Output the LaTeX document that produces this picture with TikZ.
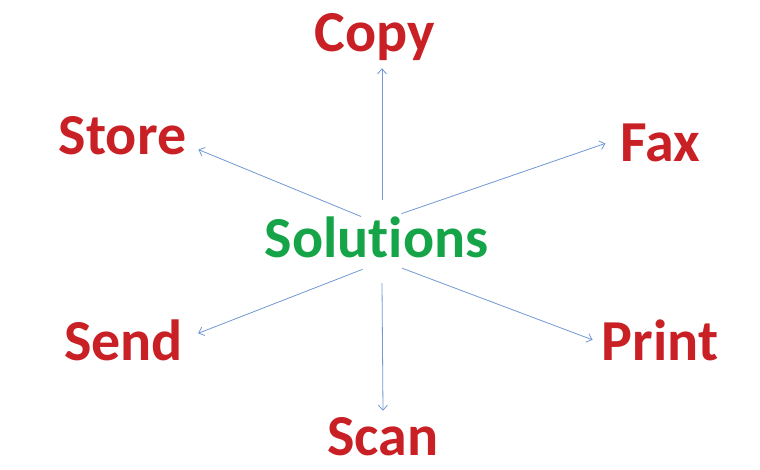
\documentclass[tikz,border=0pt]{standalone}
\usepackage{fontspec}
\setmainfont[Ligatures=NoCommon]{Carlito}
\usepackage{xcolor}
\usepackage{tikz}
\usetikzlibrary{arrows.meta,shapes.geometric}
\definecolor{wordred}{RGB}{200,32,36}
\definecolor{wordgreen}{RGB}{22,164,72}
\definecolor{spokeblue}{RGB}{112,152,212}

\begin{document}
\begin{tikzpicture}[x=1pt,y=-1pt,>={Straight Barb[length=5pt,width=9pt]},
  word/.style={inner sep=9pt,anchor=base,text=wordred,font=\fontsize{58}{60}\selectfont\bfseries},
  spoke/.style={->,draw=spokeblue,line width=0.8pt}]
\useasboundingbox (0,0) rectangle (760,470);
\node[ellipse,minimum width=52pt,minimum height=83pt,inner sep=0] (hub) at (382,241.5) {};
\node[word,text=wordgreen] (sol) at (376.5,258) {Solutions};
\node[word,inner ysep=7pt] (copy) at (374.5,52) {Copy};
\node[word,inner xsep=12pt] (store) at (122.5,155) {Store};
\node[word,inner xsep=15pt] (fax) at (660.5,162) {Fax};
\node[word,inner xsep=15pt] (send) at (123.5,360) {Send};
\node[word] (print) at (660,360) {Print};
\node[word,inner ysep=6pt] (scan) at (383,455) {Scan};
\draw[spoke] (hub.north) -- (hub.north |- copy.south);
\draw[spoke] (hub.130) -- (store.-10);
\draw[spoke] (hub.55) -- (fax.west);
\draw[spoke] (hub.235) -- (send.5);
\draw[spoke] (hub.307) -- (print.west);
\draw[spoke] (hub.south) -- (scan.north);
\end{tikzpicture}
\end{document}
